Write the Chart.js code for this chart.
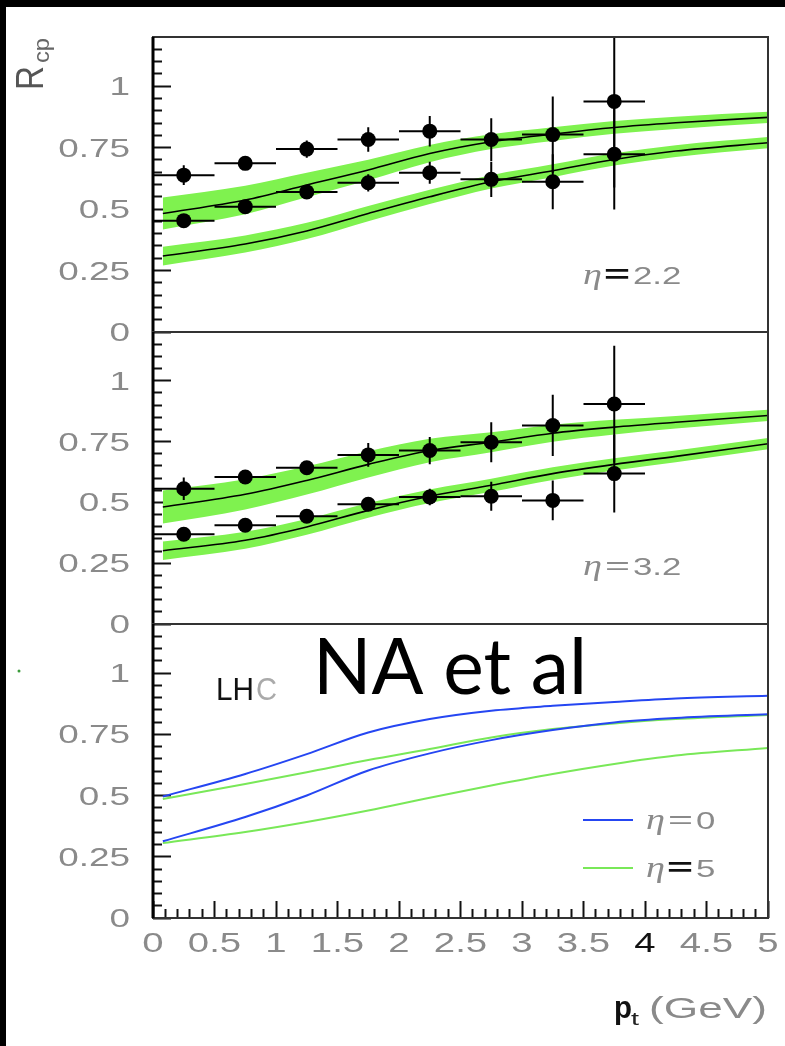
<!DOCTYPE html>
<html>
<head>
<meta charset="utf-8">
<title>R_cp vs p_t</title>
<script src="https://cdn.jsdelivr.net/npm/chart.js@4.4.1/dist/chart.umd.min.js"></script>
<style>
  html, body { margin: 0; padding: 0; background: #fff; }
  #page { position: relative; width: 785px; height: 1046px; background: #fff; overflow: hidden; }
  #page canvas { position: absolute; left: 0; top: 0; }
  .edge-left { position: absolute; left: 0; top: 0; width: 6px; height: 1046px; background: #000; }
  .edge-top { position: absolute; left: 0; top: 0; width: 785px; height: 7px; background: #000; }
</style>
</head>
<body>
<div id="page">
  <canvas id="panelTop" width="785" height="1046"></canvas>
  <canvas id="panelMid" width="785" height="1046"></canvas>
  <canvas id="panelLow" width="785" height="1046"></canvas>
  <div class="edge-left"></div>
  <div class="edge-top"></div>
</div>
<script>
// --- data -------------------------------------------------------------
const binCentres = [0.25, 0.75, 1.25, 1.75, 2.25, 2.75, 3.25, 3.75];
const binHalfWidth = 0.25;

// eta = 2.2 measurements
const eta22Upper    = [0.638, 0.686, 0.744, 0.783, 0.817, 0.783, 0.803, 0.938];
const eta22UpperErr = [0.040, 0.020, 0.035, 0.050, 0.062, 0.087, 0.155, 0.350];
const eta22Lower    = [0.453, 0.510, 0.570, 0.607, 0.648, 0.621, 0.611, 0.723];
const eta22LowerErr = [0.020, 0.020, 0.025, 0.035, 0.045, 0.072, 0.112, 0.225];

// eta = 3.2 measurements
const eta32Upper    = [0.556, 0.604, 0.642, 0.695, 0.713, 0.747, 0.816, 0.904];
const eta32UpperErr = [0.046, 0.020, 0.020, 0.049, 0.056, 0.082, 0.126, 0.240];
const eta32Lower    = [0.369, 0.406, 0.443, 0.492, 0.522, 0.525, 0.508, 0.618];
const eta32LowerErr = [0.020, 0.020, 0.020, 0.025, 0.034, 0.060, 0.082, 0.160];

// model curves sampled in p_t
const curvePt = [0.08, 0.75, 1.25, 1.75, 2.25, 2.75, 3.25, 3.75, 4.25, 5];

const eta22UpperHi  = [0.547, 0.595, 0.648, 0.701, 0.761, 0.804, 0.833, 0.858, 0.876, 0.896];
const eta22UpperMid = [0.482, 0.537, 0.598, 0.659, 0.726, 0.774, 0.805, 0.832, 0.851, 0.873];
const eta22UpperLo  = [0.417, 0.479, 0.548, 0.617, 0.691, 0.744, 0.777, 0.806, 0.826, 0.850];
const eta22LowerHi  = [0.347, 0.393, 0.444, 0.513, 0.579, 0.638, 0.682, 0.727, 0.760, 0.793];
const eta22LowerMid = [0.309, 0.358, 0.411, 0.482, 0.550, 0.611, 0.656, 0.702, 0.736, 0.770];
const eta22LowerLo  = [0.271, 0.323, 0.378, 0.451, 0.521, 0.584, 0.630, 0.677, 0.712, 0.747];

const eta32UpperHi  = [0.549, 0.595, 0.648, 0.710, 0.761, 0.788, 0.819, 0.839, 0.855, 0.880];
const eta32UpperMid = [0.481, 0.533, 0.590, 0.656, 0.713, 0.747, 0.784, 0.809, 0.829, 0.857];
const eta32UpperLo  = [0.413, 0.471, 0.532, 0.602, 0.665, 0.706, 0.749, 0.779, 0.803, 0.834];
const eta32LowerHi  = [0.339, 0.379, 0.431, 0.497, 0.553, 0.597, 0.644, 0.681, 0.713, 0.764];
const eta32LowerMid = [0.301, 0.344, 0.399, 0.467, 0.525, 0.570, 0.618, 0.656, 0.689, 0.741];
const eta32LowerLo  = [0.263, 0.309, 0.367, 0.437, 0.497, 0.543, 0.592, 0.631, 0.665, 0.718];

// LHC predictions
const lhcEta0Upper = [0.496, 0.588, 0.669, 0.757, 0.812, 0.846, 0.866, 0.882, 0.896, 0.907];
const lhcEta0Lower = [0.313, 0.412, 0.500, 0.602, 0.672, 0.726, 0.767, 0.798, 0.816, 0.832];
const lhcEta5Upper = [0.486, 0.547, 0.595, 0.645, 0.690, 0.737, 0.771, 0.794, 0.812, 0.829];
const lhcEta5Lower = [0.306, 0.351, 0.392, 0.439, 0.491, 0.541, 0.588, 0.629, 0.663, 0.694];

// axes
const yMajorTicks = [0, 0.25, 0.5, 0.75, 1];
const yTickLabels = ['0', '0.25', '0.5', '0.75', '1'];
const yMinorTicks = [0.05, 0.1, 0.15, 0.2, 0.3, 0.35, 0.4, 0.45, 0.55, 0.6, 0.65, 0.7,
                     0.8, 0.85, 0.9, 0.95, 1.05, 1.1, 1.15];
const xMajorTicks = [0, 0.5, 1, 1.5, 2, 2.5, 3, 3.5, 4, 4.5, 5];
const xTickLabels = ['0', '0.5', '1', '1.5', '2', '2.5', '3', '3.5', '4', '4.5', '5'];
const xMinorTicks = [];
for (let i = 1; i < 50; i++) if (i % 5 !== 0) xMinorTicks.push(i / 10);

// --- styling ----------------------------------------------------------
const BAND_GREEN = '#7ff24f';
const LINE_BLUE = '#2546f2';
const LINE_GREEN = '#79e858';
const GREY = '#8a8a8a';
const SANS = '"Liberation Sans", Arial, sans-serif';
const SERIF = '"Liberation Serif", "Times New Roman", serif';
const TICK_STRETCH = 1.42;

function xy(xs, ys) { return xs.map((x, i) => ({ x: x, y: ys[i] })); }

function curveSet(ys, color, width, order) {
  return { data: xy(curvePt, ys), borderColor: color, borderWidth: width, pointRadius: 0,
           cubicInterpolationMode: 'monotone', fill: false, order: order };
}

function bandSets(hi, mid, lo) {
  return [
    { data: xy(curvePt, hi), borderColor: 'rgba(0,0,0,0)', borderWidth: 0, backgroundColor: BAND_GREEN,
      pointRadius: 0, cubicInterpolationMode: 'monotone', fill: '+1', order: 3 },
    { data: xy(curvePt, lo), borderColor: 'rgba(0,0,0,0)', borderWidth: 0,
      pointRadius: 0, cubicInterpolationMode: 'monotone', fill: false, order: 3 },
    curveSet(mid, '#000', 1.6, 2)
  ];
}

function pointSet(vals, errs) {
  return { data: xy(binCentres, vals), errY: errs, showLine: false, pointRadius: 7.5,
           pointBackgroundColor: '#000', pointBorderColor: '#000', pointBorderWidth: 0, order: 0 };
}

// text squeezed / stretched horizontally
function stretchText(ctx, str, x, baseline, sx, font, color, align) {
  ctx.save();
  ctx.font = font;
  ctx.fillStyle = color;
  ctx.textBaseline = 'alphabetic';
  ctx.textAlign = 'left';
  const w = ctx.measureText(str).width * sx;
  let left = x;
  if (align === 'right') left = x - w;
  else if (align === 'center') left = x - w / 2;
  ctx.translate(left, baseline);
  ctx.scale(sx, 1);
  ctx.fillText(str, 0, 0);
  ctx.restore();
}

function fitText(ctx, str, left, baseline, width, font, color) {
  ctx.save();
  ctx.font = font;
  const sx = width / ctx.measureText(str).width;
  ctx.restore();
  stretchText(ctx, str, left, baseline, sx, font, color, 'left');
}

function etaLabel(ctx, x, baseline, value, boldEq) {
  fitText(ctx, 'η', x, baseline, 19, 'italic 30px ' + SERIF, GREY);
  if (boldEq) fitText(ctx, '=', x + 21, baseline - 1, 26, 'bold 26px ' + SANS, '#111');
  else fitText(ctx, '=', x + 22, baseline - 1, 25, '26px ' + SANS, GREY);
  stretchText(ctx, value, x + 50, baseline, 1.45, '24px ' + SANS, GREY, 'left');
}

// --- plugins ----------------------------------------------------------
const errorBars = {
  id: 'errorBars',
  afterDatasetsDraw(chart) {
    const { ctx, chartArea, scales } = chart;
    ctx.save();
    ctx.beginPath();
    ctx.rect(chartArea.left, chartArea.top, chartArea.right - chartArea.left, chartArea.bottom - chartArea.top);
    ctx.clip();
    ctx.strokeStyle = '#000';
    ctx.lineWidth = 2;
    chart.data.datasets.forEach(ds => {
      if (!ds.errY) return;
      ds.data.forEach((p, i) => {
        const cx = scales.x.getPixelForValue(p.x);
        const cy = scales.y.getPixelForValue(p.y);
        const xl = scales.x.getPixelForValue(p.x - binHalfWidth);
        const xr = scales.x.getPixelForValue(p.x + binHalfWidth);
        const yt = scales.y.getPixelForValue(p.y + ds.errY[i]);
        const yb = scales.y.getPixelForValue(p.y - ds.errY[i]);
        ctx.beginPath();
        ctx.moveTo(xl, cy); ctx.lineTo(xr, cy);
        ctx.moveTo(cx, yt); ctx.lineTo(cx, yb);
        ctx.stroke();
      });
    });
    ctx.restore();
  }
};

// frame, tick labels and any panel text
function frameAndLabels(xLabels, drawExtra) {
  return {
    id: 'frameAndLabels',
    afterDraw(chart) {
      const { ctx, chartArea, scales } = chart;
      ctx.save();
      ctx.strokeStyle = '#333';
      ctx.lineWidth = 2;
      ctx.strokeRect(chartArea.left, chartArea.top, chartArea.right - chartArea.left, chartArea.bottom - chartArea.top);
      ctx.strokeStyle = '#000';
      ctx.lineWidth = 3;
      ctx.beginPath();
      ctx.moveTo(chartArea.left, chartArea.top);
      ctx.lineTo(chartArea.left, chartArea.bottom);
      ctx.stroke();
      ctx.restore();

      yMajorTicks.forEach((v, i) => {
        const py = scales.y.getPixelForValue(v);
        stretchText(ctx, yTickLabels[i], 130, py + 9, TICK_STRETCH, '26px ' + SANS, GREY, 'right');
      });

      if (xLabels) {
        xMajorTicks.forEach((v, i) => {
          const px = scales.x.getPixelForValue(v);
          const ink = xTickLabels[i] === '4' ? '#111' : GREY;
          stretchText(ctx, xTickLabels[i], px, 952, TICK_STRETCH, '27px ' + SANS, ink, 'center');
        });
      }
      if (drawExtra) drawExtra(ctx);
    }
  };
}

// --- scales -----------------------------------------------------------
function tickAxis(axis, position, values, len, show) {
  return {
    type: 'linear', axis: axis, position: position,
    min: 0, max: axis === 'x' ? 5 : 1.2,
    afterBuildTicks: s => { s.ticks = values.map(v => ({ value: v })); },
    afterFit: s => { if (axis === 'x') s.height = 0; else s.width = 0; },
    ticks: { display: false },
    border: { display: false },
    grid: { display: show, drawOnChartArea: false, drawTicks: true,
            tickLength: -len, tickWidth: 2, tickColor: '#111' }
  };
}

function panelScales(withXTicks) {
  return {
    x: tickAxis('x', 'bottom', xMinorTicks, 9, withXTicks),
    xMajor: tickAxis('x', 'bottom', xMajorTicks, 17, withXTicks),
    y: tickAxis('y', 'left', yMinorTicks, 9, true),
    yMajor: tickAxis('y', 'left', yMajorTicks, 18, true)
  };
}

function makePanel(id, top, bottom, datasets, xLabels, drawExtra) {
  return new Chart(document.getElementById(id), {
    type: 'line',
    data: { datasets: datasets },
    options: {
      responsive: false,
      devicePixelRatio: 1,
      animation: false,
      events: [],
      layout: { padding: { left: 153, right: 17, top: top, bottom: 1046 - bottom } },
      scales: panelScales(xLabels),
      plugins: { legend: { display: false }, tooltip: { enabled: false } }
    },
    plugins: [errorBars, frameAndLabels(xLabels, drawExtra)]
  });
}

// --- panels -----------------------------------------------------------
makePanel('panelTop', 37, 332, [
  pointSet(eta22Upper, eta22UpperErr),
  pointSet(eta22Lower, eta22LowerErr),
  ...bandSets(eta22UpperHi, eta22UpperMid, eta22UpperLo),
  ...bandSets(eta22LowerHi, eta22LowerMid, eta22LowerLo)
], false, ctx => {
  etaLabel(ctx, 583, 284, '2.2', true);
  // axis title R_cp, reading upwards
  ctx.save();
  ctx.translate(43, 90);
  ctx.rotate(-Math.PI / 2);
  fitText(ctx, 'R', 0, 0, 24, '38px ' + SANS, '#555');
  fitText(ctx, 'cp', 27, 6, 25, '22px ' + SANS, '#666');
  ctx.restore();
});

makePanel('panelMid', 332, 624, [
  pointSet(eta32Upper, eta32UpperErr),
  pointSet(eta32Lower, eta32LowerErr),
  ...bandSets(eta32UpperHi, eta32UpperMid, eta32UpperLo),
  ...bandSets(eta32LowerHi, eta32LowerMid, eta32LowerLo)
], false, ctx => {
  etaLabel(ctx, 583, 575, '3.2', false);
});

makePanel('panelLow', 624, 918, [
  curveSet(lhcEta0Upper, LINE_BLUE, 2, 1),
  curveSet(lhcEta0Lower, LINE_BLUE, 2, 1),
  curveSet(lhcEta5Upper, LINE_GREEN, 2, 2),
  curveSet(lhcEta5Lower, LINE_GREEN, 2, 2)
], true, ctx => {
  // legend
  ctx.save();
  ctx.lineWidth = 2;
  ctx.strokeStyle = LINE_BLUE;
  ctx.beginPath(); ctx.moveTo(583, 820); ctx.lineTo(633, 820); ctx.stroke();
  ctx.strokeStyle = LINE_GREEN;
  ctx.beginPath(); ctx.moveTo(583, 868); ctx.lineTo(633, 868); ctx.stroke();
  ctx.restore();
  etaLabel(ctx, 646, 829, '0', false);
  etaLabel(ctx, 646, 877, '5', true);

  fitText(ctx, 'LH', 216, 700, 38, '32px ' + SANS, '#111');
  fitText(ctx, 'C', 256, 700, 21, '32px ' + SANS, '#aaa');
  fitText(ctx, 'NA et al', 313, 694, 274, '78px Lato, "Open Sans", sans-serif', '#000');

  // x axis title
  fitText(ctx, 'p', 614, 1018, 18, 'bold 32px ' + SANS, '#111');
  fitText(ctx, 't', 631, 1025, 8, '18px ' + SANS, '#222');
  fitText(ctx, '(GeV)', 649, 1018, 118, '30px ' + SANS, GREY);

  ctx.save();
  ctx.fillStyle = '#3b9b3b';
  ctx.beginPath(); ctx.arc(19, 671, 1.5, 0, Math.PI * 2); ctx.fill();
  ctx.restore();
});
</script>
</body>
</html>
